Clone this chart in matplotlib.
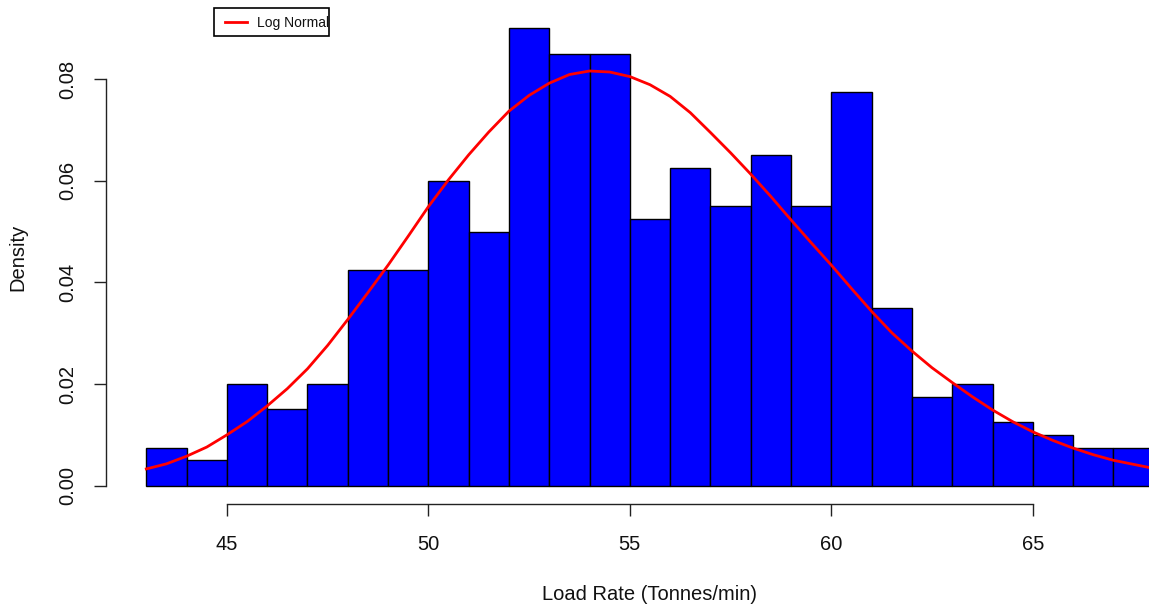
"""
Load rate histogram with fitted log normal density, R base-graphics look
"""
import matplotlib
matplotlib.use('Agg')
import matplotlib.pyplot as plt
from matplotlib.patches import Rectangle
from matplotlib.lines import Line2D

plt.rcParams['font.family'] = ['Liberation Sans', 'DejaVu Sans']

# Histogram bins (1 tonne/min wide) and densities
bin_edges = [43, 44, 45, 46, 47, 48, 49, 50, 51, 52, 53, 54, 55, 56, 57,
             58, 59, 60, 61, 62, 63, 64, 65, 66, 67, 68]
densities = [0.0075, 0.005, 0.02, 0.015, 0.02, 0.0425, 0.0425, 0.06, 0.05,
             0.09, 0.085, 0.085, 0.0525, 0.0625, 0.055, 0.065, 0.055, 0.0775,
             0.035, 0.0175, 0.02, 0.0125, 0.01, 0.0075, 0.0075]

# Log normal curve, every half unit
curve_x = [43, 43.5, 44, 44.5, 45, 45.5, 46, 46.5, 47, 47.5, 48, 48.5, 49,
           49.5, 50, 50.5, 51, 51.5, 52, 52.5, 53, 53.5, 54, 54.5, 55, 55.5,
           56, 56.5, 57, 57.5, 58, 58.5, 59, 59.5, 60, 60.5, 61, 61.5, 62,
           62.5, 63, 63.5, 64, 64.5, 65, 65.5, 66, 66.5, 67, 67.5, 68]
curve_y = [0.0033, 0.0043, 0.0058, 0.0076, 0.0100, 0.0126, 0.0157, 0.0191,
           0.0230, 0.0276, 0.0327, 0.0380, 0.0434, 0.0491, 0.0549, 0.0602,
           0.0651, 0.0696, 0.0737, 0.0768, 0.0792, 0.0809, 0.0816, 0.0814,
           0.0805, 0.0789, 0.0766, 0.0734, 0.0695, 0.0655, 0.0613, 0.0569,
           0.0523, 0.0478, 0.0434, 0.0388, 0.0343, 0.0301, 0.0265, 0.0232,
           0.0203, 0.0175, 0.0149, 0.0126, 0.0106, 0.0089, 0.0074, 0.0061,
           0.0050, 0.0042, 0.0034]

x_ticks = [45, 50, 55, 60, 65]
y_ticks = [0.00, 0.02, 0.04, 0.06, 0.08]

W, H = 1149, 608
fig = plt.figure(figsize=(W / 100, H / 100), dpi=100, facecolor='white')

# plot region like R: xlim 42..69, ylim padded 4%
ax_left, ax_right, ax_top, ax_bottom = 106, 1194, 10, 504
ax = fig.add_axes([ax_left / W, 1 - ax_bottom / H,
                   (ax_right - ax_left) / W, (ax_bottom - ax_top) / H])
ax.set_xlim(42, 69)
ax.set_ylim(-0.0036, 0.0936)

# Bars
widths = [bin_edges[i + 1] - bin_edges[i] for i in range(len(densities))]
ax.bar(bin_edges[:-1], densities, width=widths, align='edge',
       color='#0000FF', edgecolor='black', linewidth=1.0, zorder=2)

# Density curve
ax.plot(curve_x, curve_y, color='#FF0000', linewidth=2.0, zorder=3)

# R style axes
for side in ['top', 'right']:
    ax.spines[side].set_visible(False)
ax.spines['bottom'].set_bounds(x_ticks[0], x_ticks[-1])
ax.spines['left'].set_bounds(y_ticks[0], y_ticks[-1])
for side in ['bottom', 'left']:
    ax.spines[side].set_color('#222222')
    ax.spines[side].set_linewidth(1.0)

ax.set_xticks(x_ticks)
ax.set_xticklabels([str(t) for t in x_ticks])
ax.set_yticks(y_ticks)
ax.set_yticklabels([f'{t:.2f}' for t in y_ticks], rotation=90, va='center')
ax.tick_params(axis='both', direction='out', length=8.6, width=1.0,
               color='#222222', labelsize=14.5, labelcolor='#111111')
ax.tick_params(axis='x', pad=14)
ax.tick_params(axis='y', pad=12)

# Axis titles
fig.text(650 / W, 1 - 594 / H, 'Load Rate (Tonnes/min)', ha='center',
         va='center', fontsize=14.5, color='#111111')
fig.text(18 / W, 1 - 257 / H, 'Density', ha='center', va='center',
         rotation=90, fontsize=14.5, color='#111111')

# Legend box (drawn by hand, text runs into the right border like R)
lx0, lx1, ly0, ly1 = 214, 329, 8, 36
fig.add_artist(Rectangle((lx0 / W, 1 - ly1 / H), (lx1 - lx0) / W,
                         (ly1 - ly0) / H, transform=fig.transFigure,
                         fill=False, edgecolor='black', linewidth=1.2))
fig.add_artist(Line2D([225 / W, 247 / W], [1 - 22 / H, 1 - 22 / H],
                      transform=fig.transFigure, color='#FF0000', linewidth=2))
fig.text(257 / W, 1 - 23 / H, 'Log Normal', ha='left', va='center',
         fontsize=10, color='#111111')

fig.savefig('out.png', dpi=100, facecolor='white')
